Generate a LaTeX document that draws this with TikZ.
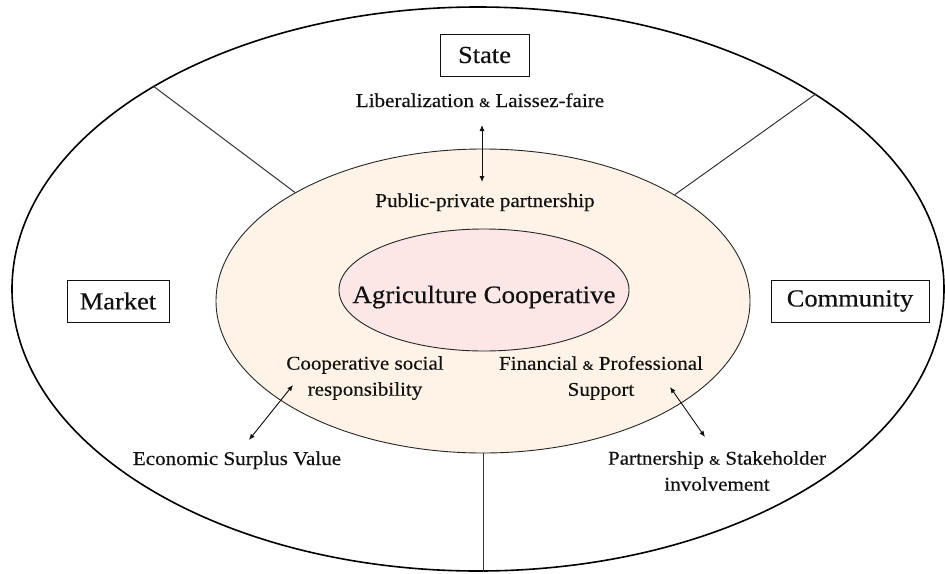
\documentclass[tikz,border=0pt]{standalone}
\usepackage{fontspec}
\setmainfont{Liberation Serif}[FakeStretch=1.08,FakeBold=0.35]
\usetikzlibrary{shapes.geometric,arrows.meta}
\definecolor{beige}{HTML}{FEF3E6}
\definecolor{pinkfill}{HTML}{FCE6E6}
\definecolor{ink}{HTML}{111111}
\newcommand{\amp}{{\fontsize{13}{13}\selectfont\&}}
\begin{document}
\begin{tikzpicture}[x=1pt,y=-1pt,
  lbl/.style={font=\fontsize{19.5}{26}\selectfont, text=ink, inner sep=0pt, align=center},
  boxlbl/.style={draw=ink, line width=0.8pt, font=\fontsize{24.5}{28}\selectfont, text=ink, inner sep=0pt},
  dbl/.style={{Latex[length=6pt,width=5pt]}-{Latex[length=6pt,width=5pt]}, line width=0.9pt, draw=ink},
  divider/.style={draw=black!80, line width=1pt},
  ring/.style={ellipse, inner sep=0pt}
]
\useasboundingbox (0,0) rectangle (945,573);
% outer ellipse
\node[ring, draw=black, line width=1.6pt, fill=white, minimum width=932pt, minimum height=564pt] (outer) at (478,289) {};
% middle ellipse
\node[ring, draw=black!85, line width=0.9pt, fill=beige, minimum width=534pt, minimum height=304pt] (mid) at (483,301) {};
% dividers
\draw[divider] (outer.148.9) -- (mid.150.4);
\draw[divider] (outer.30.2) -- (mid.29.7);
\draw[divider] (mid.south) -- (mid.south |- outer.south);
% inner ellipse
\node[ring, draw=black!85, line width=0.9pt, fill=pinkfill, minimum width=290pt, minimum height=122pt] (core) at (484,290) {};
\node[lbl, anchor=base, font=\fontsize{25}{30}\selectfont] (coop) at (484,303) {Agriculture Cooperative};
% sector boxes
\node[boxlbl, minimum width=89pt, minimum height=42pt] (state) at (484.5,55) {State};
\node[boxlbl, minimum width=102pt, minimum height=42pt] (market) at (118,301) {Market};
\node[boxlbl, minimum width=158pt, minimum height=42pt] (community) at (850,301) {Community};
% texts
\node[lbl, anchor=base] (lib) at (480,107) {Liberalization \amp{} Laissez-faire};
\node[lbl, anchor=base] (ppp) at (485,207) {Public-private partnership};
\node[lbl] (csr) at (365,378) {Cooperative social\\responsibility};
\node[lbl] (fps) at (601,378) {Financial \amp{} Professional\\Support};
\node[lbl] (psi) at (717,471) {Partnership \amp{} Stakeholder\\involvement};
\node[lbl, anchor=base] (esv) at (237,465) {Economic Surplus Value};
% arrows
\coordinate (a1) at (482,125);
\coordinate (a2) at (482,182);
\coordinate (b1) at (293,385);
\coordinate (b2) at (249,440);
\coordinate (c1) at (670,387);
\coordinate (c2) at (705,437);
\draw[dbl] (a1) -- (a2);
\draw[dbl] (b1) -- (b2);
\draw[dbl] (c1) -- (c2);
\end{tikzpicture}
\end{document}
